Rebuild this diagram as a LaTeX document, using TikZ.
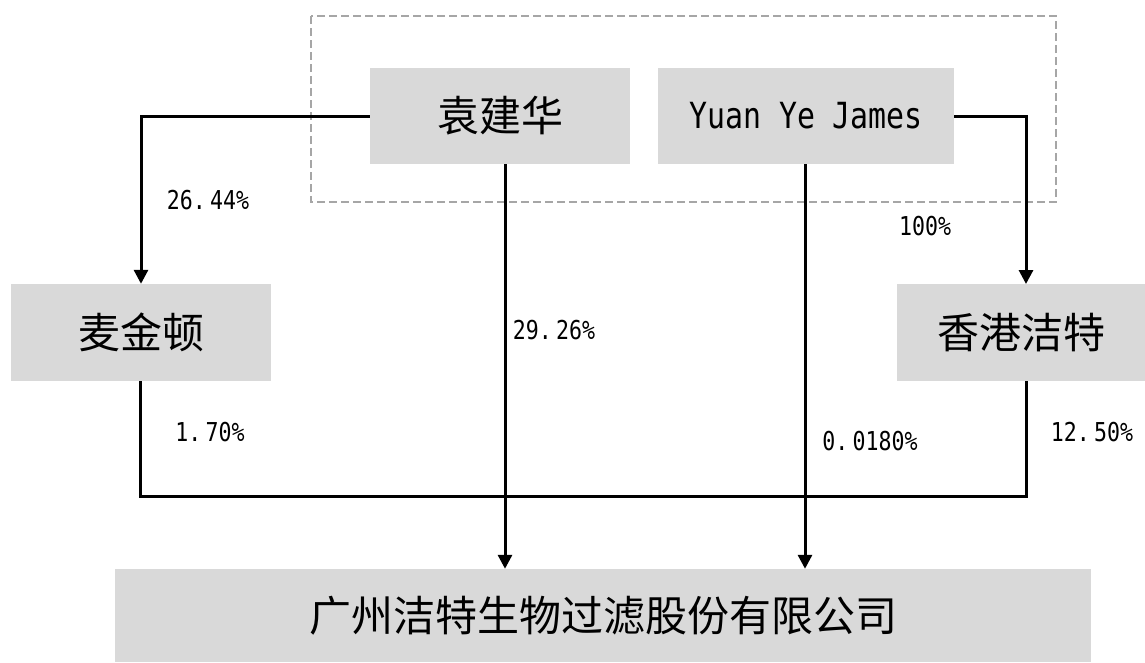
\documentclass[tikz,border=0pt]{standalone}
\usepackage{fontspec}
\setmainfont{Noto Sans CJK SC}
\newfontfamily\latinmono[FakeStretch=0.83]{DejaVu Sans Mono}
\usetikzlibrary{arrows.meta}
\definecolor{boxgray}{HTML}{D9D9D9}
\definecolor{dashgray}{HTML}{A6A6A6}
\tikzset{
  boxnode/.style={rectangle, fill=boxgray, inner sep=0pt, font=\fontsize{42}{44}\selectfont},
  conn/.style={line width=3pt, draw=black},
  arr/.style={conn, -{Triangle[length=14pt,width=14pt]}},
  pct/.style={font=\latinmono\fontsize{26}{28}\selectfont, inner sep=0pt},
  grp/.style={draw=dashgray, line width=2.5pt, dash pattern=on 8pt off 4pt}
}
\begin{document}
\begin{tikzpicture}[x=1pt,y=-1pt]
\useasboundingbox (0,0) rectangle (1145,662);
\draw[grp] (311,16) rectangle (1056,202);
\node[boxnode, minimum width=260pt, minimum height=96pt] (yjh) at (500,116) {袁建华};
\node[boxnode, minimum width=296pt, minimum height=96pt, font=\latinmono\fontsize{36}{38}\selectfont] (yyj) at (806,116) {Yuan Ye James};
\node[boxnode, minimum width=260pt, minimum height=97pt] (mjd) at (141,332.5) {麦金顿};
\node[boxnode, minimum width=248pt, minimum height=97pt] (hkjt) at (1021,332.5) {香港洁特};
\node[boxnode, minimum width=976pt, minimum height=93pt] (co) at (603,615.5) {广州洁特生物过滤股份有限公司};
\coordinate (yjhs) at (505,164);
\coordinate (yyjs) at (805,164);
\coordinate (hkin) at (1026,284);
\coordinate (mjout) at (140,381);
\coordinate (hkout) at (1026,381);
\coordinate (bus) at (140,496);
\draw[arr] (yjh.west) -| (mjd.north);
\draw[arr] (yyj.east) -| (hkin);
\draw[arr] (yjhs) -- (yjhs |- co.north);
\draw[arr] (yyjs) -- (yyjs |- co.north);
\draw[conn, line join=miter] (mjout) -- (bus) -- (bus -| hkout) -- (hkout);
\node[pct] (p1) at (208,200) {26.\,44\%};
\node[pct] (p2) at (554,330) {29.\,26\%};
\node[pct] (p3) at (925,226) {100\%};
\node[pct] (p4) at (210,432) {1.\,70\%};
\node[pct] (p5) at (870,441) {0.\,0180\%};
\node[pct] (p6) at (1092,432) {12.\,50\%};
\end{tikzpicture}
\end{document}
